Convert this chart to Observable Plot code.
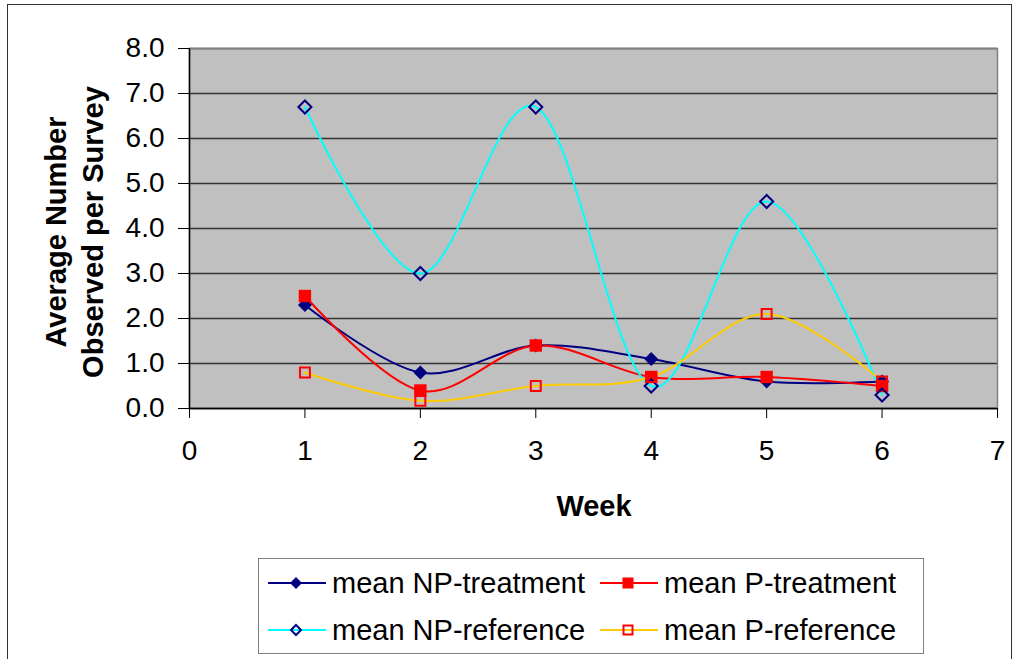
<!DOCTYPE html>
<html>
<head>
<meta charset="utf-8">
<script src="https://cdn.jsdelivr.net/npm/d3@7"></script>
<script src="https://cdn.jsdelivr.net/npm/@observablehq/plot@0.6"></script>
<style>
  body { margin: 0; background: #fff; font-family: "Liberation Sans", Arial, sans-serif; }
  #wrap { position: relative; width: 1016px; height: 659px; overflow: hidden; background: #fff; }
  #outer { position: absolute; left: 7px; top: 4px; width: 1005px; height: 700px; border: 1.5px solid #333; box-sizing: border-box; }
  #chart { position: absolute; left: 0; top: 0; }
  .title { position: absolute; font-weight: bold; font-size: 29px; color: #000; text-align: center; white-space: nowrap; }
  #ytitle { width: 360px; height: 74px; line-height: 37px; left: -105px; top: 195px; transform: rotate(-90deg); }
  #xtitle { width: 200px; left: 494px; top: 490px; line-height: 33px; }
  #legend { position: absolute; left: 258px; top: 558px; width: 666px; height: 96px; border: 1.5px solid #808080; box-sizing: border-box; background: #fff; }
  .item { position: absolute; height: 34px; line-height: 34px; font-size: 29px; color: #000; white-space: nowrap; }
  .item svg { position: absolute; left: 0; top: 7px; }
  .item span { position: absolute; left: 65px; top: 0; }
</style>
</head>
<body>
<div id="wrap">
  <div id="chart"></div>
  <div id="outer"></div>
  <div class="title" id="ytitle">Average Number<br>Observed per Survey</div>
  <div class="title" id="xtitle">Week</div>
  <div id="legend"></div>
</div>
<script>
// ---- data ----
const weeks = [1, 2, 3, 4, 5, 6];
const npTreatment = [2.3, 0.8, 1.4, 1.1, 0.6, 0.6];
const pTreatment = [2.5, 0.4, 1.4, 0.7, 0.7, 0.5];
const npReference = [6.7, 3.0, 6.7, 0.5, 4.6, 0.3];
const pReference = [0.8, 0.17, 0.5, 0.7, 2.1, 0.6];
const seriesNames = ["mean NP-treatment", "mean P-treatment", "mean NP-reference", "mean P-reference"];
const xTicks = [0, 1, 2, 3, 4, 5, 6, 7];
const yTicks = [0, 1, 2, 3, 4, 5, 6, 7, 8];

const seriesValues = [npTreatment, pTreatment, npReference, pReference];
const styles = [
  {line: "#000080", symbol: "diamond2", fill: "#000080", stroke: "none", r: 6.3, sw: 0},
  {line: "#FF0000", symbol: "square", fill: "#FF0000", stroke: "none", r: 7.0, sw: 0},
  {line: "#00FFFF", symbol: "diamond2", fill: "none", stroke: "#000080", r: 5.9, sw: 2},
  {line: "#FFCC00", symbol: "square", fill: "none", stroke: "#FF0000", r: 5.6, sw: 2}
];
const tables = seriesValues.map((vals, i) => weeks.map((w, j) => ({week: w, value: vals[j], series: seriesNames[i]})));

const marks = [
  Plot.frame({fill: "#C0C0C0"}),
  Plot.gridY(yTicks, {stroke: "#333", strokeOpacity: 1, strokeWidth: 1.5}),
  Plot.frame({stroke: "#808080", strokeWidth: 1.5}),
  Plot.ruleY([0], {stroke: "#000", strokeWidth: 1.5}),
  Plot.ruleX([0], {stroke: "#000", strokeWidth: 1.5}),
  Plot.axisX({ticks: xTicks, tickSize: 10, tickPadding: 22, fontSize: 28, tickFormat: d3.format("d"), label: null, stroke: "#000", fill: "#000"}),
  Plot.axisY({ticks: yTicks, tickSize: 11, tickPadding: 14, fontSize: 28, tickFormat: d3.format(".1f"), label: null, stroke: "#000", fill: "#000"})
];
tables.forEach((t, i) => {
  marks.push(Plot.line(t, {x: "week", y: "value", curve: "cardinal", stroke: styles[i].line, strokeWidth: 2}));
});
tables.forEach((t, i) => {
  const s = styles[i];
  marks.push(Plot.dot(t, {x: "week", y: "value", symbol: () => s.symbol, r: s.r, fill: s.fill, stroke: s.stroke, strokeWidth: s.sw}));
});

const chart = Plot.plot({
  width: 1016,
  height: 545,
  marginLeft: 189,
  marginRight: 19,
  marginTop: 48,
  marginBottom: 137,
  style: {fontFamily: "'Liberation Sans', Arial, sans-serif", color: "#000", background: "transparent", overflow: "visible"},
  x: {domain: [0, 7]},
  y: {domain: [0, 8]},
  marks
});
document.getElementById("chart").appendChild(chart);

// ---- legend ----
const legend = document.getElementById("legend");
const pos = [[8, 24], [340, 24], [8, 71], [340, 71]];
function markerSvg(s) {
  const c = 29, cy = 10;
  let m;
  if (s.symbol === "diamond2") {
    const h = s.sw ? 5 : 6;
    m = `<polygon points="${c},${cy - h} ${c + h},${cy} ${c},${cy + h} ${c - h},${cy}" fill="${s.fill}" stroke="${s.stroke}" stroke-width="${s.sw || 0}"/>`;
  } else {
    const h = s.sw ? 4.5 : 5.5;
    m = `<rect x="${c - h}" y="${cy - h}" width="${2 * h}" height="${2 * h}" fill="${s.fill}" stroke="${s.stroke}" stroke-width="${s.sw || 0}"/>`;
  }
  return `<svg width="60" height="20"><line x1="1" x2="59" y1="${cy}" y2="${cy}" stroke="${s.line}" stroke-width="2"/>${m}</svg>`;
}
seriesNames.forEach((name, i) => {
  const d = document.createElement("div");
  d.className = "item";
  d.style.left = pos[i][0] + "px";
  d.style.top = (pos[i][1] - 17) + "px";
  d.innerHTML = markerSvg(styles[i]) + `<span>${name}</span>`;
  legend.appendChild(d);
});
</script>
</body>
</html>
